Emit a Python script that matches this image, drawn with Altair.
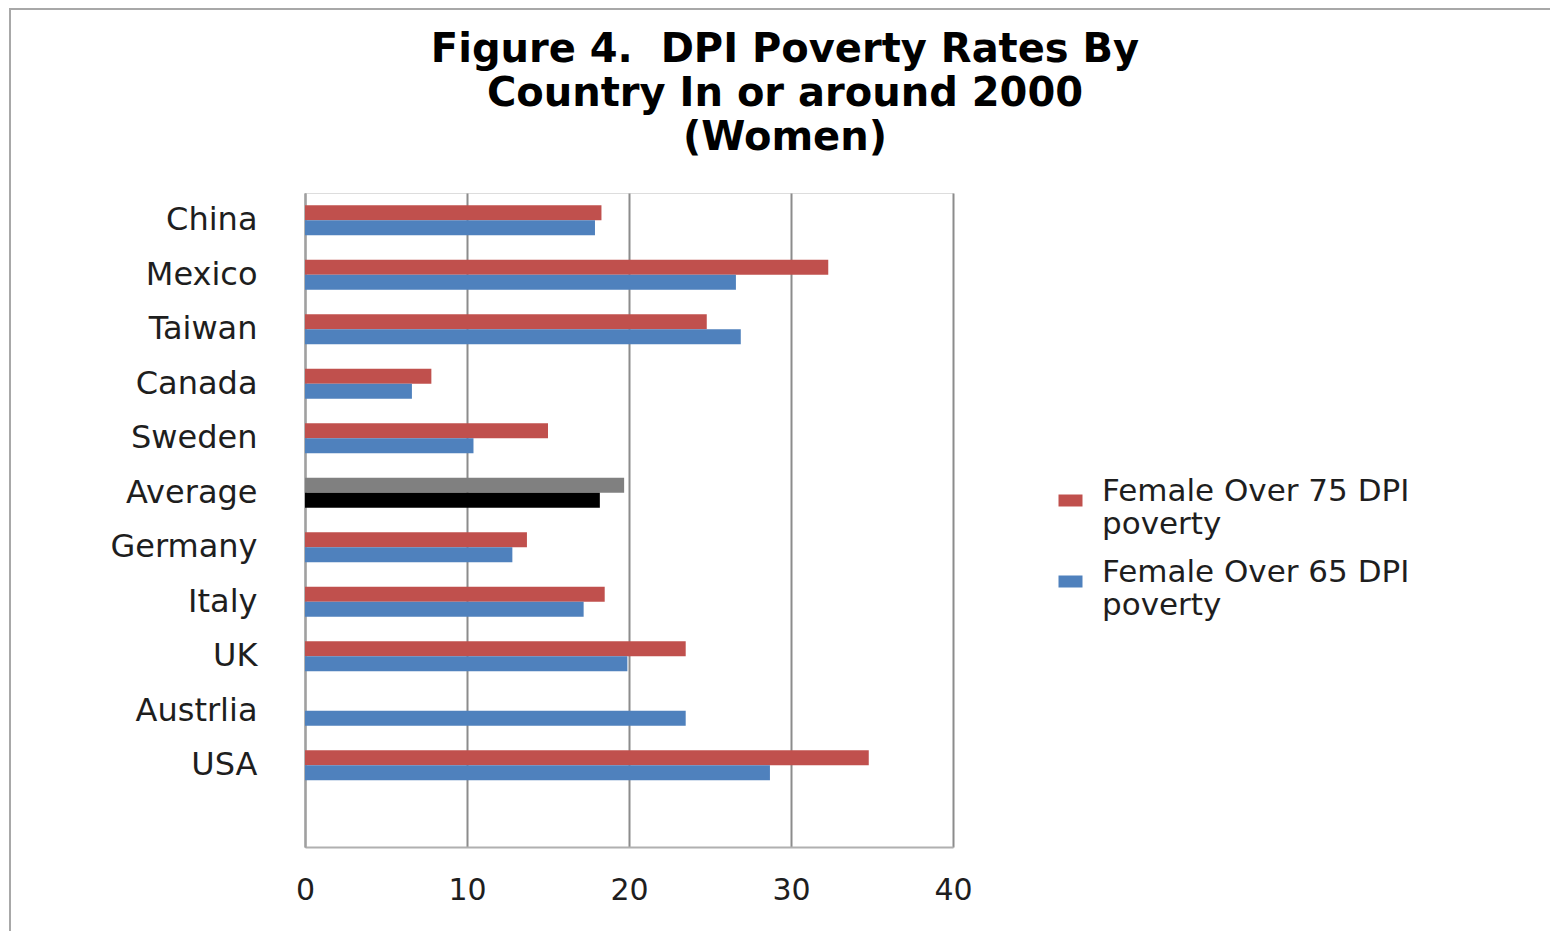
import altair as alt
import pandas as pd

countries = ["China", "Mexico", "Taiwan", "Canada", "Sweden", "Average",
             "Germany", "Italy", "UK", "Austrlia", "USA"]
over75 = [18.3, 32.3, 24.8, 7.8, 15.0, 19.7, 13.7, 18.5, 23.5, None, 34.8]
over65 = [17.9, 26.6, 26.9, 6.6, 10.4, 18.2, 12.8, 17.2, 19.9, 23.5, 28.7]
series = ["Female Over 75 DPI poverty", "Female Over 65 DPI poverty"]
x_ticks = [0, 10, 20, 30, 40]
title_lines = ["Figure 4.\u00a0 DPI Poverty Rates By", "Country In or around 2000", "(Women)"]

rows = []
for c, a, b in zip(countries, over75, over65):
    for s, v, avgkey in ((series[0], a, "avg75"), (series[1], b, "avg65")):
        if v is None:
            continue
        rows.append({"country": c, "series": s, "value": v,
                     "key": avgkey if c == "Average" else s})
df = pd.DataFrame(rows)

y_domain = countries + [" "]

font = "DejaVu Sans"
grid_col = "#8C8C8C"
txt_col = "#1E1E1E"

bars = alt.Chart(df).mark_bar(size=15).encode(
    x=alt.X("value:Q",
            scale=alt.Scale(domain=[0, 40], nice=False),
            axis=alt.Axis(values=x_ticks, title=None, grid=True, gridColor=grid_col,
                          gridWidth=2, ticks=False, domainColor="#B0B0B0", domainWidth=2,
                          labelFont=font, labelFontSize=30, labelColor=txt_col,
                          labelPadding=28, labelFlush=False)),
    y=alt.Y("country:N", sort=y_domain,
            scale=alt.Scale(domain=y_domain, paddingInner=0.45, paddingOuter=0.225),
            axis=alt.Axis(title=None, ticks=False, domainColor="#A0A0A0", domainWidth=2,
                          labelFont=font, labelFontSize=32, labelColor=txt_col,
                          labelPadding=48)),
    yOffset=alt.YOffset("series:N", sort=series, scale=alt.Scale(domain=series,
                                                                   paddingInner=0, paddingOuter=0)),
    color=alt.Color("key:N",
                    scale=alt.Scale(domain=series + ["avg75", "avg65"],
                                    range=["#C0504D", "#4F81BD", "#808080", "#000000"]),
                    legend=alt.Legend(values=series, title=None, orient="none",
                                      legendX=750, legendY=292,
                                      labelExpr="datum.label == 'Female Over 75 DPI poverty' ? ['Female Over 75 DPI', 'poverty'] : ['Female Over 65 DPI', 'poverty']",
                                      labelFont=font, labelFontSize=31, labelColor=txt_col,
                                      labelLimit=700, symbolType="M-1,-0.5H1V0.5H-1Z",
                                      symbolSize=576, symbolStrokeWidth=0, rowPadding=16,
                                      labelOffset=16, labelBaseline="alphabetic")),
)

frame = alt.Chart(pd.DataFrame({"a": [0]})).mark_rect(
    fill=None, stroke="#A8A8A8", strokeWidth=2
).encode(
    x=alt.value(-295), x2=alt.value(1247), y=alt.value(-184), y2=alt.value(800)
)

title = alt.Chart(pd.DataFrame({"a": [0]})).mark_text(
    font=font, fontSize=40, fontWeight="bold", color="#000000",
    align="center", baseline="middle", lineHeight=44
).encode(
    x=alt.value(480), y=alt.value(-143), text=alt.value(title_lines)
)

chart = alt.layer(frame, title, bars).properties(
    width=648, height=654,
    padding={"left": 297, "top": 185, "right": 597, "bottom": 84},
    autosize=alt.AutoSizeParams(type="none"),
).configure_view(stroke=None).configure(background="white")

chart.save("out.html", embed_options={"renderer": "svg", "actions": False})
